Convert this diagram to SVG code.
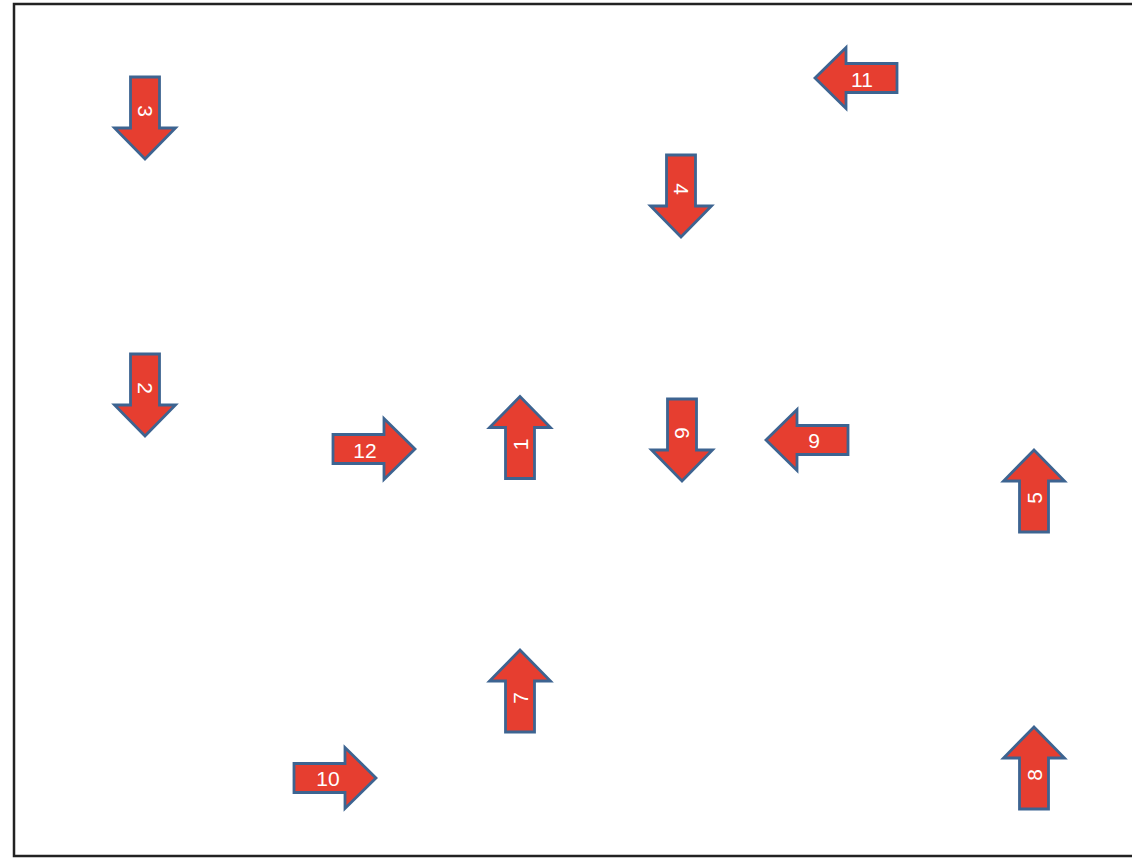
<svg xmlns="http://www.w3.org/2000/svg" xmlns:xlink="http://www.w3.org/1999/xlink" width="1132" height="859" viewBox="0 0 1132 859">
<style>
.arr{fill:#E63E30;stroke:#3D6491;stroke-width:2.8;stroke-linejoin:miter}
.lbl{fill:#FFFFFF;font-family:"Liberation Sans",Arial,sans-serif;font-size:21px;text-anchor:middle;dominant-baseline:central}
</style>
<defs>
<path id="arrow" d="M-41,-14.5 H10 V-30.5 L41,0 L10,30.5 V14.5 H-41 Z"/>
</defs>
<rect x="0" y="0" width="1132" height="859" fill="#FFFFFF"/>
<rect x="14" y="4" width="1130" height="852" fill="none" stroke="#222222" stroke-width="2.5"/>
<g id="node-1" transform="translate(520,437.5) rotate(-90)"><use xlink:href="#arrow" class="arr"/><text class="lbl" x="-7" y="0">1</text></g>
<g id="node-2" transform="translate(145,395) rotate(90)"><use xlink:href="#arrow" class="arr"/><text class="lbl" x="-7" y="0">2</text></g>
<g id="node-3" transform="translate(145,118) rotate(90)"><use xlink:href="#arrow" class="arr"/><text class="lbl" x="-7" y="0">3</text></g>
<g id="node-4" transform="translate(681,196) rotate(90)"><use xlink:href="#arrow" class="arr"/><text class="lbl" x="-7" y="0">4</text></g>
<g id="node-5" transform="translate(1034,491) rotate(-90)"><use xlink:href="#arrow" class="arr"/><text class="lbl" x="-7" y="0">5</text></g>
<g id="node-6" transform="translate(682,440) rotate(90)"><use xlink:href="#arrow" class="arr"/><text class="lbl" x="-7" y="0">6</text></g>
<g id="node-7" transform="translate(520,691) rotate(-90)"><use xlink:href="#arrow" class="arr"/><text class="lbl" x="-7" y="0">7</text></g>
<g id="node-8" transform="translate(1034,768) rotate(-90)"><use xlink:href="#arrow" class="arr"/><text class="lbl" x="-7" y="0">8</text></g>
<g id="node-9"><use xlink:href="#arrow" class="arr" transform="translate(807,440) rotate(180)"/><text class="lbl" x="814" y="440">9</text></g>
<g id="node-10" transform="translate(335,778)"><use xlink:href="#arrow" class="arr"/><text class="lbl" x="-7" y="0">10</text></g>
<g id="node-11"><use xlink:href="#arrow" class="arr" transform="translate(856,78) rotate(180)"/><text class="lbl" x="862" y="79">11</text></g>
<g id="node-12" transform="translate(374,449)"><use xlink:href="#arrow" class="arr"/><text class="lbl" x="-9" y="1">12</text></g>
</svg>
